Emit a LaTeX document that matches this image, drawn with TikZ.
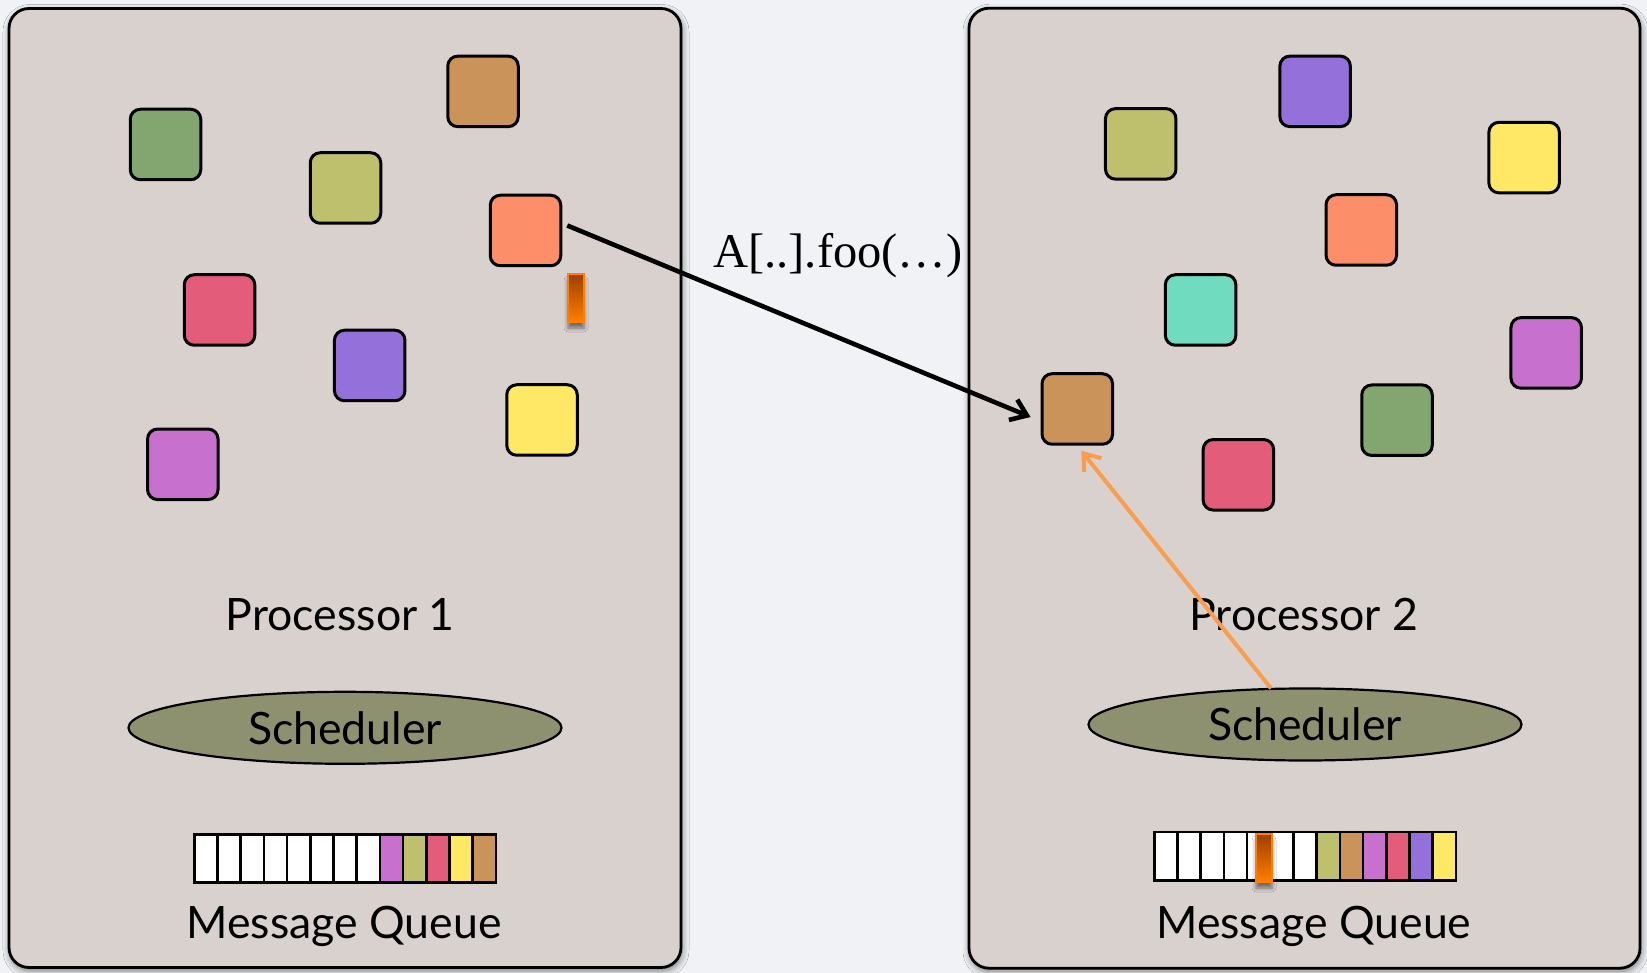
\documentclass[tikz,border=0pt]{standalone}
\usepackage{fontspec}
\newfontfamily\gillfont{Lato}
\newfontfamily\seriffont{Liberation Serif}
\usetikzlibrary{shapes.geometric,arrows.meta,shadows.blur,calc}
\definecolor{bgc}{HTML}{F0F2F6}
\definecolor{panelc}{HTML}{D9D1CE}
\definecolor{schedc}{HTML}{8E9170}
\definecolor{cgreen}{HTML}{83A570}
\definecolor{colive}{HTML}{BEC06E}
\definecolor{cbrown}{HTML}{C9935A}
\definecolor{csalmon}{HTML}{FD8E6A}
\definecolor{cred}{HTML}{E35C7A}
\definecolor{cpurple}{HTML}{9470DA}
\definecolor{cmagenta}{HTML}{C870CE}
\definecolor{cyellow}{HTML}{FFE866}
\definecolor{cteal}{HTML}{70DBBE}
\definecolor{bardark}{HTML}{9E3F00}
\definecolor{barorange}{HTML}{FF7F00}
\definecolor{arroworange}{HTML}{F99D4E}
\begin{document}
\begin{tikzpicture}[x=1pt,y=-1pt,
  panel/.style={rectangle, draw=black, line width=2.8pt, rounded corners=20pt, fill=panelc, inner sep=0pt,
    blur shadow={shadow xshift=1pt, shadow yshift=-3pt, shadow blur radius=7pt, shadow opacity=55}},
  obj/.style={rectangle, draw=black, line width=3pt, rounded corners=10pt, minimum size=70.5pt, inner sep=0pt},
  sched/.style={ellipse, draw=black, line width=2.2pt, fill=schedc, minimum width=433pt, minimum height=72pt, inner sep=0pt,
    font=\gillfont\fontsize{44.6}{50}\selectfont},
  lbl/.style={font=\gillfont\fontsize{44.6}{50}\selectfont, inner sep=0pt, anchor=base},
  cell/.style={rectangle, draw=black, line width=2.7pt, minimum width=23.2pt, minimum height=48.4pt, inner sep=0pt},
  msgbar/.style={rectangle, draw=barorange, line width=2pt, minimum width=16pt, minimum height=48pt, inner sep=0pt,
    top color=bardark, middle color=bardark!90!barorange, bottom color=barorange,
    blur shadow={shadow xshift=0pt, shadow yshift=-6pt, shadow blur radius=4pt, shadow opacity=50}},
  callarrow/.style={line width=4.6pt, draw=black, -{Straight Barb[length=15pt,width=22pt]}},
  schedarrow/.style={line width=4pt, draw=arroworange, -{Straight Barb[length=15pt,width=22pt]}}
]
\fill[bgc] (0,0) rectangle (1647,973);
\useasboundingbox (0,0) rectangle (1647,973);

% panels
\node[panel, minimum width=672pt, minimum height=959pt] (p1) at (345,488) {};
\node[panel, minimum width=671pt, minimum height=960pt] (p2) at (1304.5,488.2) {};

% objects in processor 1
\node[obj, fill=cgreen]   (a1) at (165.5,144.5) {};
\node[obj, fill=colive]   (a2) at (345.5,188) {};
\node[obj, fill=cbrown]   (a3) at (483,91.4) {};
\node[obj, fill=csalmon]  (a4) at (525.5,230.5) {};
\node[obj, fill=cred]     (a5) at (219.5,310) {};
\node[obj, fill=cpurple]  (a6) at (369.7,365.5) {};
\node[obj, fill=cyellow]  (a7) at (542,420) {};
\node[obj, fill=cmagenta] (a8) at (182.8,464.3) {};
\node[msgbar] (bar1) at (576,298) {};

% objects in processor 2
\node[obj, fill=colive]   (b1) at (1140.7,143.9) {};
\node[obj, fill=cpurple]  (b2) at (1315.1,91.4) {};
\node[obj, fill=cyellow]  (b3) at (1524.1,157.6) {};
\node[obj, fill=csalmon]  (b4) at (1361.3,230) {};
\node[obj, fill=cteal]    (b5) at (1200.6,310) {};
\node[obj, fill=cmagenta] (b6) at (1546.2,352.9) {};
\node[obj, fill=cbrown]   (b7) at (1077.3,409) {};
\node[obj, fill=cgreen]   (b8) at (1397,420.2) {};
\node[obj, fill=cred]     (b9) at (1238.4,474.8) {};

% labels
\node[lbl] (t1) at (340.3,630.7) {Processor 1};
\node[lbl] (t2) at (1303.8,630.7) {Processor 2};

% schedulers
\node[sched] (s1) at (345,727.8) {Scheduler};
\node[sched] (s2) at (1305,724.5) {Scheduler};

% message queues
\foreach \c [count=\i] in {white,white,white,white,white,white,white,white,cmagenta,colive,cred,cyellow,cbrown}
  \node[cell, fill=\c] (qa\i) at ({194.3+23.2*(\i-0.5)},858.5) {};
\foreach \c [count=\i] in {white,white,white,white,white,white,white,colive,cbrown,cmagenta,cred,cpurple,cyellow}
  \node[cell, fill=\c] (qb\i) at ({1154.3+23.2*(\i-0.5)},856.2) {};
\node[msgbar] (bar2) at (1264,858) {};

\node[lbl] (m1) at (344,938.3) {Message Queue};
\node[lbl] (m2) at (1313.8,938.3) {Message Queue};

% arrows
\draw[callarrow] ([xshift=5pt,yshift=5pt]a4.east) -- ([xshift=-10pt,yshift=-8pt]b7.west);
\node[font=\seriffont\fontsize{48.5}{54}\selectfont, inner sep=0pt, anchor=base] (call) at (838,268) {A[..].foo(…)};
\draw[schedarrow] ([xshift=-34pt,yshift=-1pt]s2.north) -- ([xshift=4pt,yshift=-5pt]b7.south);
\end{tikzpicture}
\end{document}
